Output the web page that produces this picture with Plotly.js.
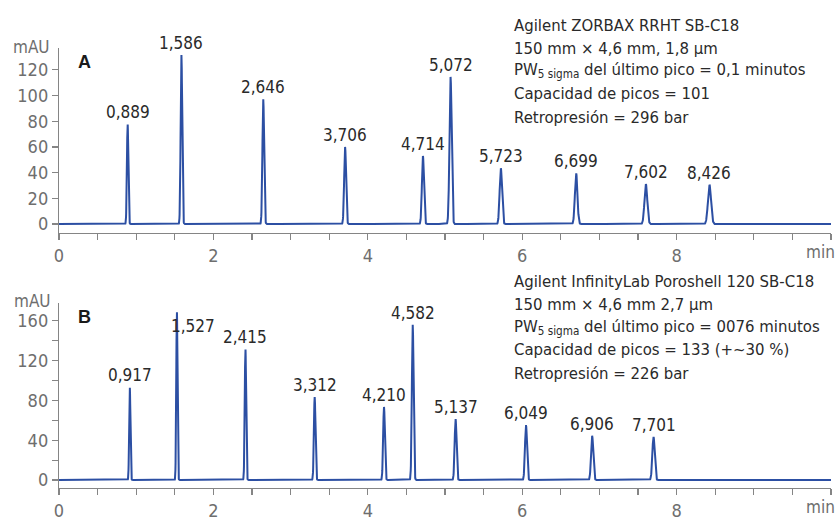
<!DOCTYPE html>
<html>
<head>
<meta charset="utf-8">
<script src="https://cdn.plot.ly/plotly-3.0.1.min.js"></script>
<style>html,body{margin:0;padding:0;background:#fff;}#chart{width:835px;height:517px;}</style>
</head>
<body>
<div id="chart"></div>
<script>
// ---- Data ----
// Panel A: Agilent ZORBAX RRHT SB-C18
const timesA   = [0.889, 1.586, 2.646, 3.706, 4.714, 5.072, 5.723, 6.699, 7.602, 8.426];
const heightsA = [78, 131.5, 97, 60, 53, 114.5, 43.5, 39.5, 31, 30.5];
const sigmaA   = [0.009, 0.010, 0.011, 0.012, 0.013, 0.014, 0.015, 0.016, 0.018, 0.020];
// Panel B: Agilent InfinityLab Poroshell 120 SB-C18
const timesB   = [0.917, 1.527, 2.415, 3.312, 4.210, 4.582, 5.137, 6.049, 6.906, 7.701];
const heightsB = [93.5, 170, 132, 83.5, 73.5, 156, 61.5, 55.5, 44.5, 43.5];
const sigmaB   = [0.008, 0.008, 0.009, 0.010, 0.011, 0.011, 0.012, 0.013, 0.014, 0.015];

const infoA = [
  "Agilent ZORBAX RRHT SB-C18",
  "150 mm × 4,6 mm, 1,8 µm",
  "PW<sub>5 sigma</sub> del último pico = 0,1 minutos",
  "Capacidad de picos = 101",
  "Retropresión = 296 bar"
];
const infoB = [
  "Agilent InfinityLab Poroshell 120 SB-C18",
  "150 mm × 4,6 mm 2,7 µm",
  "PW<sub>5 sigma</sub> del último pico = 0076 minutos",
  "Capacidad de picos = 133 (+~30 %)",
  "Retropresión = 226 bar"
];
const xTickVals = [0,0.5,1,1.5,2,2.5,3,3.5,4,4.5,5,5.5,6,6.5,7,7.5,8,8.5,9,9.5,10];
const xTickText = ["0"," "," "," ","2"," "," "," ","4"," "," "," ","6"," "," "," ","8"," "," "," "," "];
const yTickValsA = [0,20,40,60,80,100,120];
const yTickTextA = ["0","20","40","60","80","100","120"];
const yTickValsB = [0,20,40,60,80,100,120,140,160];
const yTickTextB = ["0"," ","40"," ","80"," ","120"," ","160"];

// ---- Build chromatogram traces from peak tables ----
function chromatogram(times, heights, sigmas) {
  const xs = [], ys = [];
  for (let i = 0; i <= 5000; i++) {
    const t = i * 0.002;
    let v = 0;
    for (let k = 0; k < times.length; k++) {
      const d = (t - times[k]) / sigmas[k];
      if (Math.abs(d) < 8) v += heights[k] * Math.exp(-0.5 * d * d);
    }
    xs.push(t); ys.push(v);
  }
  return {x: xs, y: ys};
}
const cA = chromatogram(timesA, heightsA, sigmaA);
const cB = chromatogram(timesB, heightsB, sigmaB);

const lineColor = '#2c4fa3';
const narrow = '"Liberation Sans Narrow", "DejaVu Sans Condensed", "Arial Narrow", sans-serif';
const textColor = '#2a2a2a';
const tickColor = '#6e6e6e';

const traces = [
  {x: cA.x, y: cA.y, xaxis: 'x', yaxis: 'y', type: 'scatter', mode: 'lines',
   line: {color: lineColor, width: 2}, hoverinfo: 'skip'},
  {x: cB.x, y: cB.y, xaxis: 'x2', yaxis: 'y2', type: 'scatter', mode: 'lines',
   line: {color: lineColor, width: 2}, hoverinfo: 'skip'}
];

// plot area pixel geometry
const L = 59, R = 831, T = 48, B = 488;
const px = v => (v - L) / (R - L);
const py = v => (B - v) / (B - T);

const fmt = t => t.toFixed(3).replace('.', ',');
const annotations = [];
timesA.forEach((t, i) => annotations.push({
  xref: 'x', yref: 'y', x: t, y: heightsA[i], text: fmt(t), showarrow: false,
  yanchor: 'middle', xanchor: 'center', yshift: 12,
  font: {family: narrow, size: 17, color: textColor}
}));
timesB.forEach((t, i) => {
  const special = (i === 1);
  annotations.push({
    xref: 'x2', yref: 'y2', x: t, y: heightsB[i], text: fmt(t), showarrow: false,
    yanchor: 'middle', xanchor: 'center',
    yshift: special ? -15 : 12, xshift: special ? 16 : 0,
    font: {family: narrow, size: 17, color: textColor}
  });
});
const infoYA = [25, 48, 71, 94, 117];
const infoYB = [281, 304, 327, 350, 373];
infoA.forEach((s, i) => annotations.push({
  xref: 'paper', yref: 'paper', x: px(512), y: py(infoYA[i]), text: s, showarrow: false,
  xanchor: 'left', yanchor: 'middle', font: {family: narrow, size: 16.6, color: textColor}
}));
infoB.forEach((s, i) => annotations.push({
  xref: 'paper', yref: 'paper', x: px(512), y: py(infoYB[i]), text: s, showarrow: false,
  xanchor: 'left', yanchor: 'middle', font: {family: narrow, size: 16.6, color: textColor}
}));
// panel letters, units
annotations.push({xref:'paper', yref:'paper', x: px(84), y: py(62), text: '<b>A</b>', showarrow:false,
  xanchor:'center', yanchor:'middle', font:{family:'"Liberation Sans", Arial, sans-serif', size: 18, color:'#1a1a1a'}});
annotations.push({xref:'paper', yref:'paper', x: px(84), y: py(317), text: '<b>B</b>', showarrow:false,
  xanchor:'center', yanchor:'middle', font:{family:'"Liberation Sans", Arial, sans-serif', size: 18, color:'#1a1a1a'}});
annotations.push({xref:'paper', yref:'paper', x: px(31), y: py(47), text: 'mAU', showarrow:false,
  xanchor:'center', yanchor:'middle', font:{family: narrow, size: 17, color: tickColor}});
annotations.push({xref:'paper', yref:'paper', x: px(32), y: py(301), text: 'mAU', showarrow:false,
  xanchor:'center', yanchor:'middle', font:{family: narrow, size: 17, color: tickColor}});
annotations.push({xref:'paper', yref:'paper', x: px(820), y: py(252), text: 'min', showarrow:false,
  xanchor:'center', yanchor:'middle', font:{family: narrow, size: 17, color: tickColor}});
annotations.push({xref:'paper', yref:'paper', x: px(820), y: py(507), text: 'min', showarrow:false,
  xanchor:'center', yanchor:'middle', font:{family: narrow, size: 17, color: tickColor}});

const axisCommon = {
  showgrid: false, zeroline: false, showline: true, linecolor: '#858585', linewidth: 1.2,
  ticks: 'outside', ticklen: 6, tickwidth: 1.2, tickcolor: '#858585',
  tickfont: {family: narrow, size: 18, color: tickColor}, fixedrange: true
};

const layout = {
  width: 835, height: 517,
  margin: {l: L, r: 835 - R, t: T, b: 517 - B, pad: 0},
  paper_bgcolor: '#ffffff', plot_bgcolor: '#ffffff',
  showlegend: false,
  xaxis: Object.assign({}, axisCommon, {anchor: 'y', range: [0, 10], tickmode: 'array',
    tickvals: xTickVals, ticktext: xTickText}),
  yaxis: Object.assign({}, axisCommon, {anchor: 'x', domain: [py(233), 1], range: [-7, 137],
    tickmode: 'array', tickvals: yTickValsA, ticktext: yTickTextA}),
  xaxis2: Object.assign({}, axisCommon, {anchor: 'y2', range: [0, 10], tickmode: 'array',
    tickvals: xTickVals, ticktext: xTickText}),
  yaxis2: Object.assign({}, axisCommon, {anchor: 'x2', domain: [0, py(303)], range: [-8, 178],
    tickmode: 'array', tickvals: yTickValsB, ticktext: yTickTextB}),
  annotations: annotations
};

Plotly.newPlot('chart', traces, layout, {staticPlot: true, displayModeBar: false});
</script>
</body>
</html>
